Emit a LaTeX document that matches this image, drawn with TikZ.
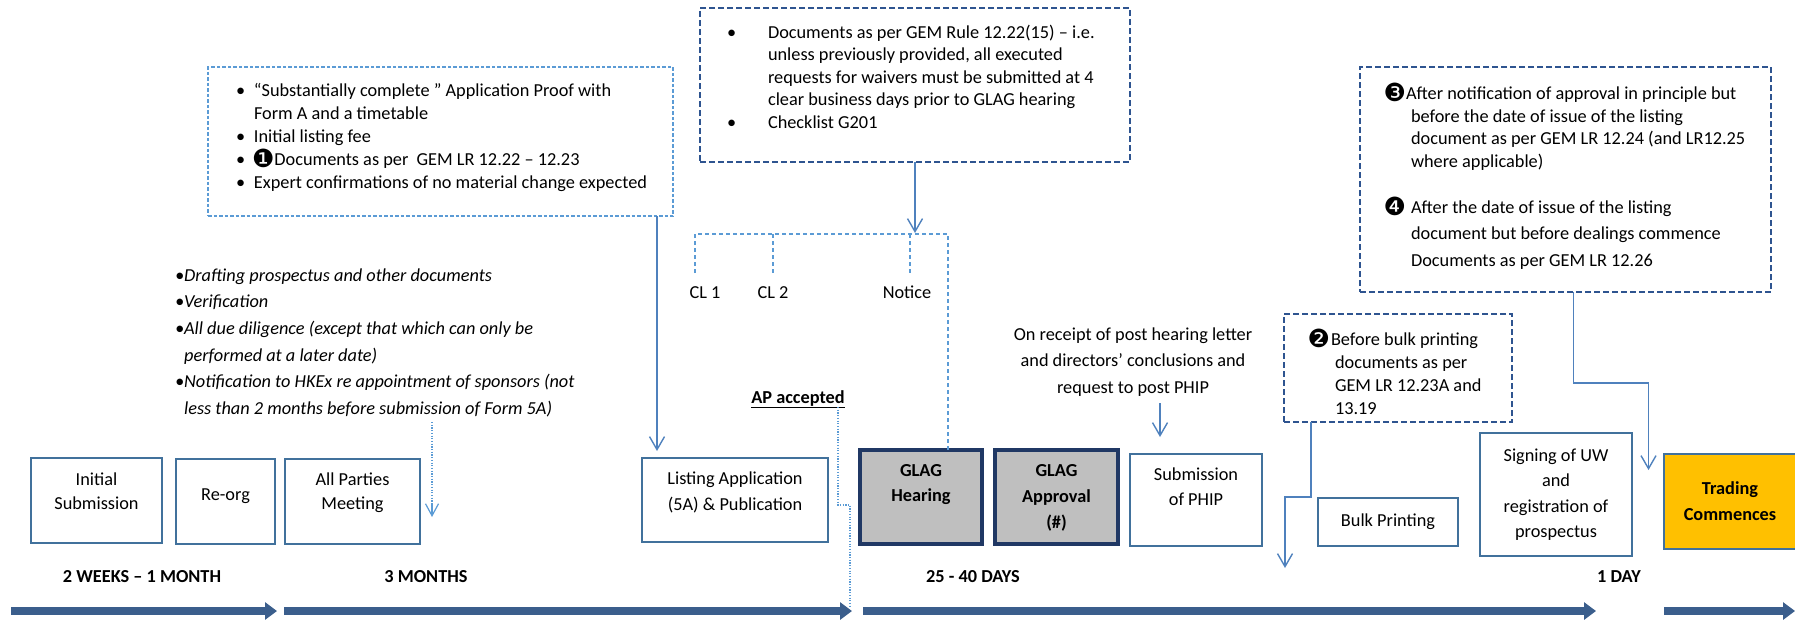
\documentclass[tikz,border=0pt]{standalone}
\usepackage{fontspec}
\setmainfont{Carlito}
\newfontfamily\dejavu{DejaVu Sans}
\usetikzlibrary{arrows.meta,calc}
\definecolor{boxblue}{HTML}{41719C}
\definecolor{tlblue}{HTML}{3B5E8C}
\definecolor{connblue}{HTML}{4F81BD}
\definecolor{lightdash}{HTML}{5B9BD5}
\definecolor{darkdash}{HTML}{2E5490}
\definecolor{navyb}{HTML}{203864}
\definecolor{glaggray}{HTML}{BFBFBF}
\definecolor{goldf}{HTML}{FFC000}
\newcommand{\fl}{\rule{0pt}{14pt}}
\newcommand{\bu}[1]{\makebox[#1][l]{•}}
\newcommand{\cnum}[1]{\raisebox{-2pt}{\dejavu\fontsize{25}{25}\selectfont #1}}
\begin{document}
\begin{tikzpicture}[x=1pt,y=-1pt,
  every node/.style={inner sep=0pt,outer sep=0pt},
  pbox/.style={draw=boxblue,line width=2pt,fill=white,anchor=north west},
  gbox/.style={draw=navyb,line width=4.5pt,fill=glaggray,anchor=north west},
  tbox/.style={draw=boxblue,line width=2pt,fill=goldf,anchor=north west},
  ldbox/.style={draw=lightdash,line width=1.3pt,dash pattern=on 3.5pt off 2pt,anchor=north west},
  ddbox/.style={draw=darkdash,line width=2pt,dash pattern=on 6pt off 3pt,anchor=north west},
  btxt/.style={font=\fontsize{18.3}{24.5}\selectfont,align=center,anchor=north},
  bold/.style={font=\fontsize{18.3}{25.5}\selectfont\bfseries,align=center,anchor=north},
  ltxt/.style={font=\fontsize{18.3}{23}\selectfont,align=left,anchor=north west},
  tlab/.style={font=\fontsize{18.3}{22}\selectfont\bfseries,anchor=base},
  tline/.style={draw=tlblue,line width=7.5pt,-{Triangle[length=12pt,width=17pt]}},
  conn/.style={draw=connblue,line width=1.6pt,-{Straight Barb[length=13pt,width=15pt,line width=1.4pt]}},
  bracket/.style={draw=lightdash,line width=1.5pt,dash pattern=on 4pt off 3pt},
  dotc/.style={draw=lightdash,line width=1.2pt,dash pattern=on 1.2pt off 1.5pt}
]
\useasboundingbox (0,0) rectangle (1795,621);

% ---------- timeline arrows ----------
\draw[tline] (11,611) -- (277,611);
\draw[tline] (284,611) -- (852,611);
\draw[tline] (863,611) -- (1596,611);
\draw[tline] (1664,611) -- (1795,611);

\node[tlab] (t1) at (142,582) {2 WEEKS – 1 MONTH};
\node[tlab] (t2) at (426,582) {3 MONTHS};
\node[tlab] (t3) at (973,582) {25 - 40 DAYS};
\node[tlab] (t4) at (1619,582) {1 DAY};

% ---------- bottom boxes ----------
\node[pbox,minimum width=131pt,minimum height=85pt] (init) at (31,458) {};
\node[btxt] (initt) at (96.5,471) {\fl Initial\\Submission};
\node[pbox,minimum width=99pt,minimum height=85pt] (reorg) at (176,459) {};
\node[btxt,anchor=base] (reorgt) at (225.5,500) {Re-org};
\node[pbox,minimum width=135pt,minimum height=85pt] (allp) at (285,459) {};
\node[btxt] (allpt) at (352.5,471) {\fl All Parties\\Meeting};
\node[pbox,minimum width=186pt,minimum height=84pt] (list) at (642,458) {};
\node[btxt,font=\fontsize{18.3}{26}\selectfont] (listt) at (735,470) {\fl Listing Application\\(5A) \& Publication};
\node[gbox,minimum width=122pt,minimum height=94pt] (hear) at (860,450) {};
\node[bold] (heart) at (921,462) {\fl GLAG\\Hearing};
\node[gbox,minimum width=123pt,minimum height=94pt] (appr) at (995,450) {};
\node[bold,font=\fontsize{18.3}{26}\selectfont\bfseries] (apprt) at (1056.5,462) {\fl GLAG\\Approval\\(\#)};
\node[pbox,minimum width=132pt,minimum height=92pt] (subm) at (1130,454) {};
\node[btxt,font=\fontsize{18.3}{25}\selectfont] (submt) at (1196,466) {\fl Submission\\of PHIP};
\node[pbox,minimum width=140pt,minimum height=48pt] (bulk) at (1318,498) {};
\node[btxt,anchor=base] (bulkt) at (1388,526) {Bulk Printing};
\node[pbox,minimum width=152pt,minimum height=123pt] (sign) at (1480,433) {};
\node[btxt,font=\fontsize{18.3}{25.5}\selectfont] (signt) at (1556,447) {\fl Signing of UW\\and\\registration of\\prospectus};
\node[tbox,minimum width=136pt,minimum height=95pt] (trad) at (1664,454) {};
\node[bold,font=\fontsize{18.3}{26}\selectfont\bfseries] (tradt) at (1730,480) {\fl Trading\\Commences};

% ---------- top-left dashed box ----------
\node[ldbox,minimum width=465pt,minimum height=149pt] (lbox) at (208,67) {};
\node[ltxt] (lboxt) at (236,82) {\fl\bu{18pt}“Substantially complete ” Application Proof with\\
\hspace*{18pt}Form A and a timetable\\
\bu{18pt}Initial listing fee\\
\bu{18pt}\hspace*{-2pt}\cnum{❶}Documents as per~ GEM LR 12.22 – 12.23\\
\bu{18pt}Expert confirmations of no material change expected};

% ---------- middle top dashed box ----------
\node[ddbox,minimum width=430pt,minimum height=154pt] (mbox) at (700,8) {};
\node[ltxt,font=\fontsize{18.3}{22.6}\selectfont] (mboxt) at (727,24) {\fl\bu{41pt}Documents as per GEM Rule 12.22(15) – i.e.\\
\hspace*{41pt}unless previously provided, all executed\\
\hspace*{41pt}requests for waivers must be submitted at 4\\
\hspace*{41pt}clear business days prior to GLAG hearing\\
\bu{41pt}Checklist G201};

% ---------- top-right dashed box ----------
\node[ddbox,minimum width=411pt,minimum height=225pt] (trbox) at (1360,67) {};
\node[ltxt,font=\fontsize{18.3}{22.7}\selectfont] (tr3) at (1411,83) {\fl\hspace*{-5pt}\llap{\cnum{❸}}After notification of approval in principle but\\
before the date of issue of the listing\\
document as per GEM LR 12.24 (and LR12.25\\
where applicable)};
\node[ltxt,font=\fontsize{18.3}{26.5}\selectfont] (tr4) at (1411,197) {\fl\llap{\cnum{❹}\hspace{5pt}}After the date of issue of the listing\\
document but before dealings commence\\
Documents as per GEM LR 12.26};

% ---------- bulk printing dashed box ----------
\node[ddbox,minimum width=228pt,minimum height=108pt] (bbox) at (1284,314) {};
\node[ltxt,font=\fontsize{18.3}{23}\selectfont] (bboxt) at (1335,329) {\fl\hspace*{-4pt}\llap{\cnum{❷}\hspace{1pt}}Before bulk printing\\
documents as per\\
GEM LR 12.23A and\\
13.19};

% ---------- free texts ----------
\node[ltxt,font=\fontsize{18.3}{26.7}\selectfont\itshape] (ital) at (175,267) {\fl •Drafting prospectus and other documents\\
•Verification\\
•All due diligence (except that which can only be\\
\hphantom{•}performed at a later date)\\
•Notification to HKEx re appointment of sponsors (not\\
\hphantom{•}less than 2 months before submission of Form 5A)};

\node[btxt,font=\fontsize{18.3}{26.5}\selectfont] (recv) at (1133,326) {\fl On receipt of post hearing letter\\
and directors’ conclusions and\\
request to post PHIP};

\node[tlab] (cl1) at (705,298) {\mdseries CL 1};
\node[tlab] (cl2) at (773,298) {\mdseries CL 2};
\node[tlab] (notice) at (907,298) {\mdseries Notice};
\node[tlab] (ap) at (798,403) {\underline{AP accepted}};

% ---------- bracket ----------
\coordinate (brL) at (695,234);
\coordinate (brR) at (948,234);
\draw[bracket] (695,273) -- (brL) -- (brR) -- (brR |- hear.north);
\draw[bracket] (773,234) -- (773,273);
\draw[bracket] (910,234) -- (910,273);

% ---------- connectors ----------
\coordinate (p1) at ($(list.north west)+(15,0)$);
\draw[conn,shorten >=7pt] (p1 |- lbox.south) -- (p1);
\draw[conn,shorten >=1pt] (mbox.south) -- (mbox.south |- brL);
\coordinate (p3) at (1160,403);
\draw[conn,shorten >=17pt] (p3) -- (p3 |- subm.north);
\coordinate (p4) at ($(bbox.south west)+(27,0)$);
\draw[conn] (p4) -- ++(0,75) -- ++(-26,0) -- ++(0,71);
\coordinate (p5) at ($(trbox.south)+(8,0)$);
\draw[conn] (p5) -- ++(0,91) -- ++(75,0) -- ++(0,87);
\coordinate (p6) at (432,422);
\draw[dotc] (p6) -- (432,505);
\draw[draw=lightdash,line width=1.2pt,-{Straight Barb[length=12pt,width=13pt,line width=1.2pt]}] (432,504) -- (432,517);
\coordinate (p7) at (838,407);
\draw[dotc] (p7) -- (838,505) -- (850,505) -- (850,607);
\end{tikzpicture}
\end{document}
